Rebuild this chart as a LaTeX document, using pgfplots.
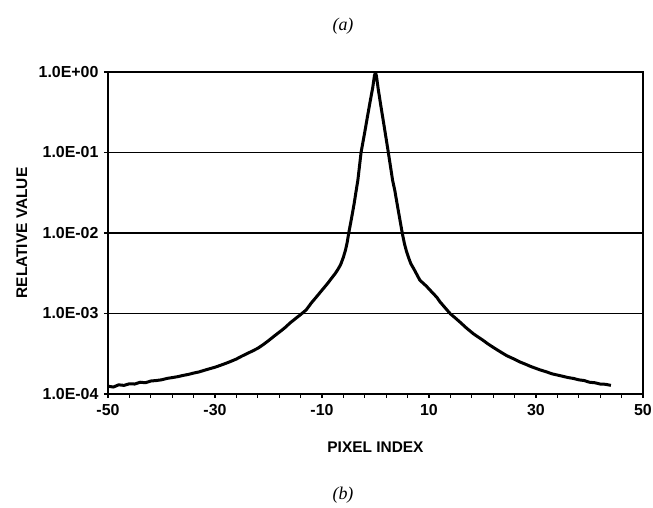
\documentclass[border=0pt]{standalone}
\usepackage{pgfplots}
\pgfplotsset{compat=1.18}
\usepackage{fontspec}
\setmainfont{Liberation Sans}
\newfontfamily\tnr{Liberation Serif}

\begin{document}
\begin{tikzpicture}
\begin{axis}[
  at={(0,0)}, anchor=south west,
  scale only axis,
  width=535bp, height=322bp,
  ymode=log,
  xmin=-50, xmax=50,
  ymin=1e-4, ymax=1,
  xtick={-50,-30,...,50},
  xticklabels={-50,-30,-10,10,30,50},
  minor xtick={-46,-42,...,46},
  ytick={1e-4,1e-3,1e-2,1e-1,1},
  yticklabels={1.0E-04,1.0E-03,1.0E-02,1.0E-01,1.0E+00},
  yminorticks=false,
  tick align=outside,
  xtick pos=bottom, ytick pos=left,
  major tick length=4bp, minor tick length=4bp,
  every tick/.style={black, line width=1.2bp},
  axis line style={black, line width=1.7bp},
  ymajorgrids,
  major grid style={black, line width=1.8bp},
  ticklabel style={font=\fontsize{16}{19}\selectfont\bfseries},
  xticklabel style={yshift=-3bp},
  yticklabel style={xshift=-2bp},
  xlabel={PIXEL INDEX},
  ylabel={RELATIVE VALUE},
  every axis x label/.style={at={(axis description cs:0.5,0)}, yshift=-53bp, anchor=center,
    font=\fontsize{15.5}{18}\selectfont\bfseries},
  every axis y label/.style={at={(axis description cs:0,0.5)}, xshift=-86bp, rotate=90, anchor=center,
    font=\fontsize{15.5}{18}\selectfont\bfseries},
]
\addplot[black, line width=3bp, line join=round] table[row sep=crcr] {
-50 1.25e-4\\
-49 1.22e-4\\
-48 1.30e-4\\
-47 1.28e-4\\
-46 1.34e-4\\
-45 1.33e-4\\
-44 1.40e-4\\
-43 1.38e-4\\
-42 1.45e-4\\
-41 1.47e-4\\
-40 1.50e-4\\
-39 1.56e-4\\
-38 1.60e-4\\
-37 1.64e-4\\
-36 1.70e-4\\
-35 1.75e-4\\
-34 1.82e-4\\
-33 1.88e-4\\
-32 1.97e-4\\
-31 2.06e-4\\
-30 2.15e-4\\
-29 2.27e-4\\
-28 2.40e-4\\
-27 2.55e-4\\
-26 2.72e-4\\
-25 2.95e-4\\
-24 3.18e-4\\
-23 3.42e-4\\
-22 3.70e-4\\
-21 4.10e-4\\
-20 4.60e-4\\
-19 5.20e-4\\
-18 5.85e-4\\
-17 6.60e-4\\
-16 7.60e-4\\
-15 8.60e-4\\
-14 9.70e-4\\
-13 1.10e-3\\
-12 1.35e-3\\
-11 1.62e-3\\
-10 1.95e-3\\
-9 2.34e-3\\
-8.5 2.59e-3\\
-7.5 3.16e-3\\
-7 3.55e-3\\
-6.5 4.07e-3\\
-6 5.01e-3\\
-5.6 6.17e-3\\
-5.3 7.59e-3\\
-5 1.00e-2\\
-4.5 1.50e-2\\
-4 2.30e-2\\
-3.6 3.40e-2\\
-3.3 4.50e-2\\
-3 6.70e-2\\
-2.7 0.100\\
-2 0.180\\
-1.5 0.280\\
-1 0.430\\
-0.5 0.650\\
-0.2 0.900\\
0 1.000\\
0.2 0.870\\
0.5 0.620\\
1 0.380\\
1.5 0.237\\
2 0.147\\
2.4 0.100\\
3.2 4.50e-2\\
3.6 3.40e-2\\
4.2 2.00e-2\\
5 1.00e-2\\
5.4 7.41e-3\\
5.8 5.89e-3\\
6.2 4.90e-3\\
6.6 4.17e-3\\
7.2 3.55e-3\\
8.3 2.59e-3\\
9.5 2.19e-3\\
10.2 1.95e-3\\
11.5 1.58e-3\\
12 1.41e-3\\
13 1.18e-3\\
14 9.90e-4\\
15 8.70e-4\\
16 7.60e-4\\
17 6.60e-4\\
18.3 5.60e-4\\
19 5.20e-4\\
20 4.70e-4\\
21 4.20e-4\\
22 3.80e-4\\
23 3.45e-4\\
24.5 3.00e-4\\
26 2.70e-4\\
27 2.50e-4\\
28 2.35e-4\\
29 2.20e-4\\
30.7 2.00e-4\\
32 1.88e-4\\
33 1.78e-4\\
34 1.72e-4\\
35 1.66e-4\\
36 1.60e-4\\
37 1.56e-4\\
38 1.50e-4\\
39 1.47e-4\\
40 1.40e-4\\
41 1.38e-4\\
42 1.33e-4\\
43 1.32e-4\\
44 1.28e-4\\
};
\end{axis}
\node[font=\tnr\itshape\fontsize{18}{20}\selectfont] at (235bp,368bp) {(a)};
\node[font=\tnr\itshape\fontsize{18}{20}\selectfont] at (235bp,-101bp) {(b)};
\pgfresetboundingbox
\path[use as bounding box] (-108bp,-114bp) rectangle (545bp,394bp);
\end{tikzpicture}
\end{document}
